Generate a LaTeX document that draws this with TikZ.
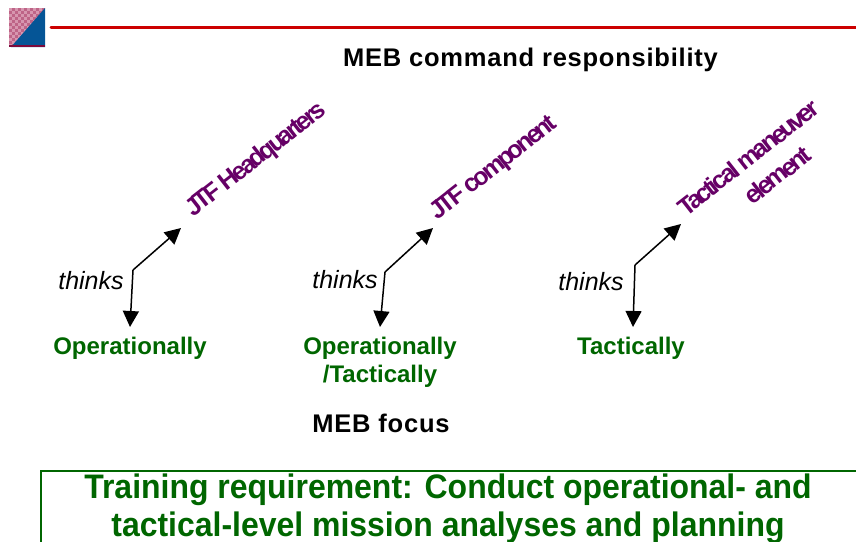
\documentclass[tikz,border=0pt]{standalone}
\usepackage{fontspec}
\setmainfont{Liberation Sans}
\usetikzlibrary{arrows.meta}
\definecolor{meb green}{RGB}{0,102,0}
\definecolor{meb purple}{RGB}{102,0,102}
\definecolor{meb red}{RGB}{204,0,0}
\definecolor{icon pink}{RGB}{190,100,135}
\definecolor{icon light}{RGB}{215,150,175}
\definecolor{icon blue}{RGB}{5,85,150}
\definecolor{icon dark}{RGB}{125,10,60}
\tikzset{
	heading/.style={font=\fontsize{25.5}{25.5}\selectfont\bfseries\addfontfeature{LetterSpace=3}, text=black, inner sep=0pt},
	focus/.style={font=\fontsize{24}{28}\selectfont\bfseries, text=meb green, align=center, inner sep=0pt},
	level/.style={font=\fontsize{25}{32}\selectfont\bfseries\addfontfeature{LetterSpace=-12}, text=meb purple, align=center, inner sep=0pt, rotate=38},
	think/.style={font=\fontsize{25}{25}\selectfont\itshape, text=black, inner sep=0pt},
	link/.style={draw=black, line width=1.5pt, -{Triangle[length=16pt,width=16pt]}},
	requirement/.style={font=\fontsize{34}{38}\selectfont\bfseries\addfontfeature{FakeStretch=0.94}, text=meb green, align=center, inner sep=0pt}
}
\begin{document}
\begin{tikzpicture}[x=1pt,y=-1pt]
	\useasboundingbox (0,0) rectangle (856,541);

	% corner icon
	\fill[icon pink] (9,8) rectangle (45,47);
	\foreach \i in {0,...,11}
		\foreach \j in {0,...,12}
			{\pgfmathtruncatemacro{\k}{mod(\i+\j,2)}
			\ifnum\k=0 \fill[icon light] (9+3*\i,8+3*\j) rectangle ++(3,3); \fi}
	\fill[icon blue] (45,8) -- (45,47) -- (11,47) -- cycle;
	\fill[icon dark] (9,45) rectangle (45,47);
	\draw[meb red, line width=3pt, line cap=round] (51,27) -- (856,27);

	\node[heading] (title) at (530.5,60){MEB command responsibility};

	% the three columns
	\node[level] (hq) at (256.5,160){JTF Headquarters};
	\node[level] (comp) at (494,169){JTF component};
	\node[level] (tact) at (758,170){Tactical maneuver\\\hspace*{24pt}element};

	\node[think] (think a) at (91,281){thinks};
	\node[think] (think b) at (345,280){thinks};
	\node[think] (think c) at (591,282){thinks};

	\node[focus, anchor=north] (op) at (130,337){Operationally};
	\node[focus, anchor=north] (optact) at (380,337){Operationally\\/Tactically};
	\node[focus, anchor=north] (tac) at (631,337){Tactically};

	\coordinate (fork a) at (133,270);
	\coordinate (up a) at (181,228);
	\coordinate (down a) at (130,327);
	\coordinate (fork b) at (385,272);
	\coordinate (up b) at (433,228);
	\coordinate (down b) at (380,327);
	\coordinate (fork c) at (635,265);
	\coordinate (up c) at (681,224);
	\coordinate (down c) at (633,327);

	\draw[link] (fork a) -- (up a);
	\draw[link] (fork a) -- (down a);
	\draw[link] (fork b) -- (up b);
	\draw[link] (fork b) -- (down b);
	\draw[link] (fork c) -- (up c);
	\draw[link] (fork c) -- (down c);

	\node[heading] (meb focus) at (381,423){MEB focus};

	% box runs off the page
	\draw[meb green, line width=1.5pt] (41,471) rectangle (880,570);
	\node[requirement] (train) at (448,509){Training requirement: Conduct operational- and\\tactical-level mission analyses and planning};
\end{tikzpicture}
\end{document}
